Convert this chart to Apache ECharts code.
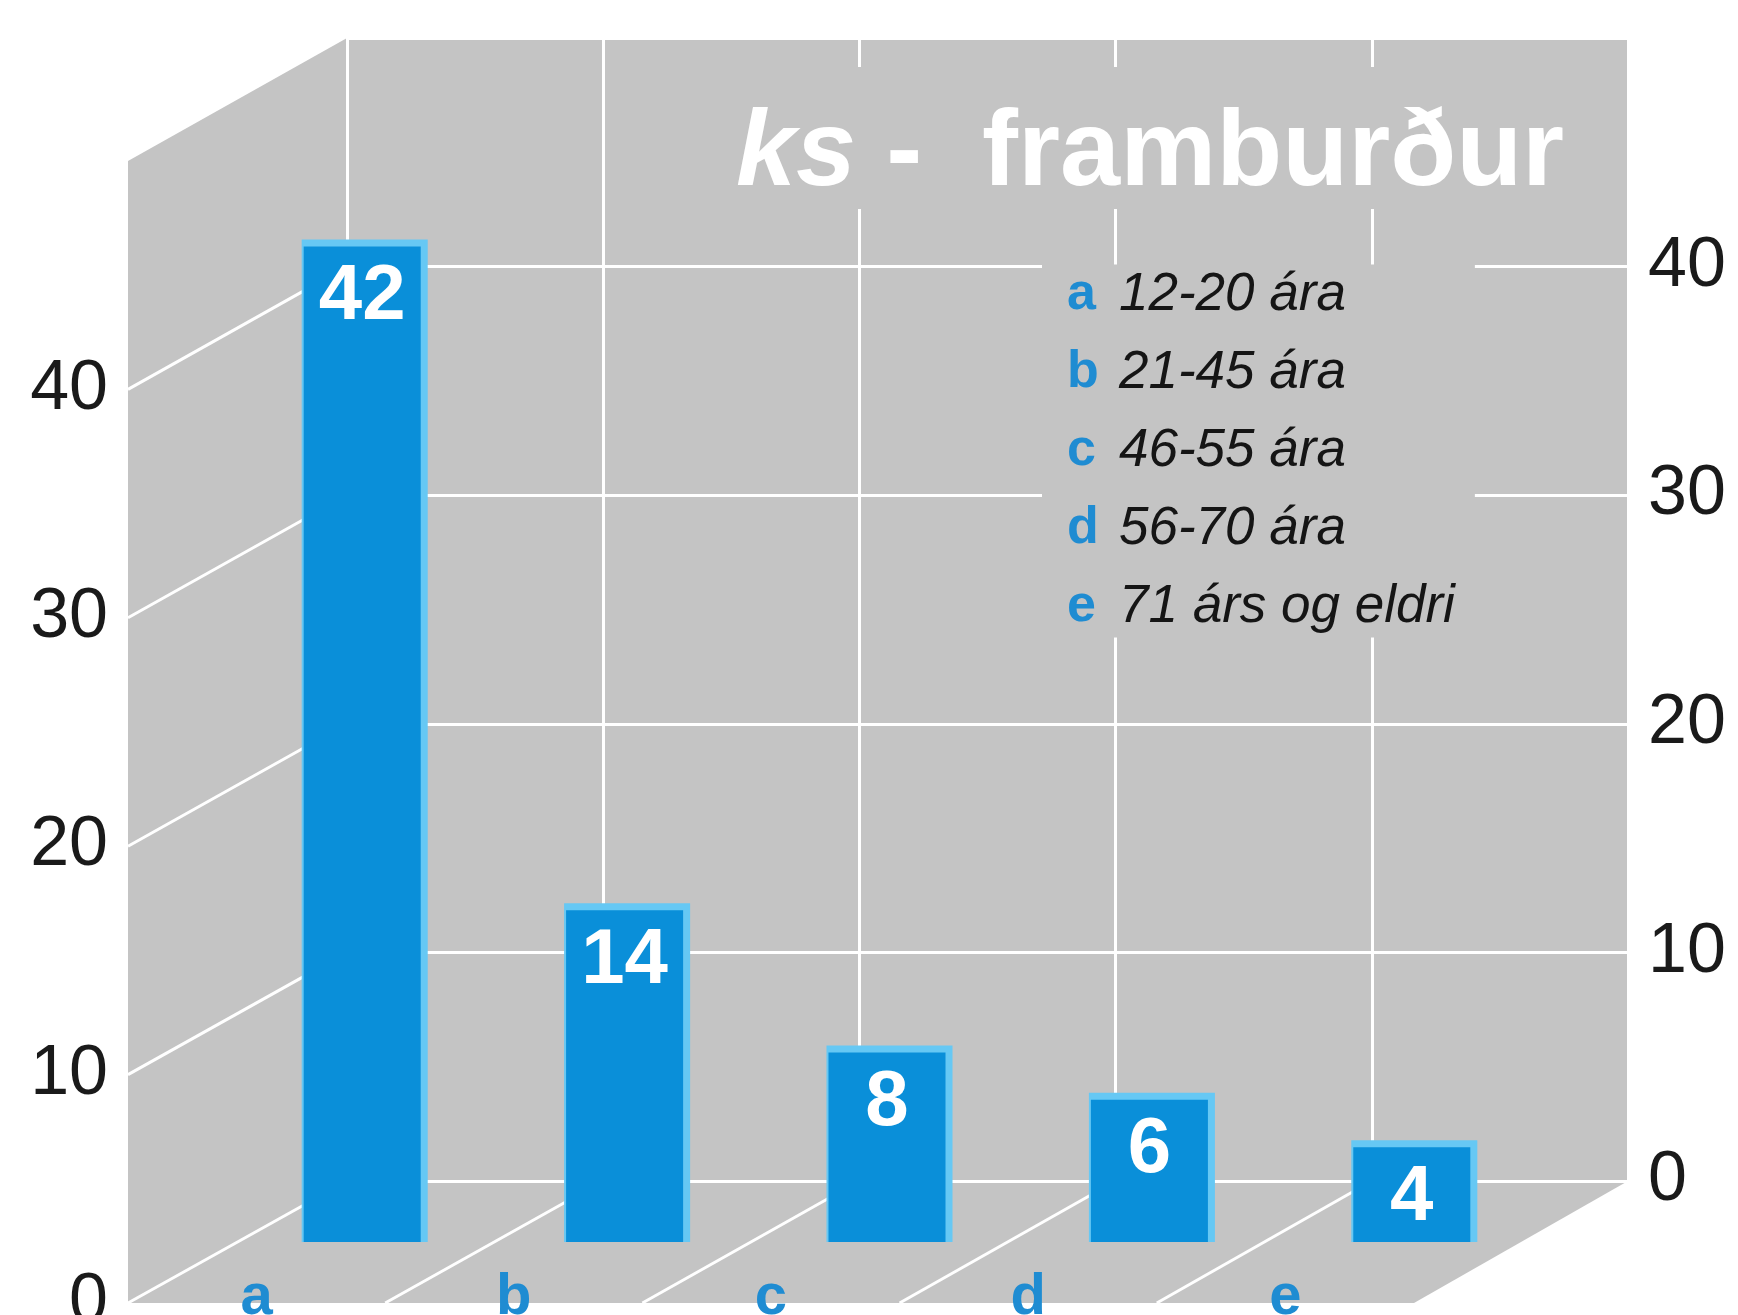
<!DOCTYPE html>
<html>
<head>
    <meta charset="utf-8">
    <title>ks - framburður</title>
    <script src="https://cdn.jsdelivr.net/npm/echarts@6/dist/echarts.min.js"></script>
    <style>
        html, body {
            margin: 0;
            padding: 0;
            background: #ffffff;
        }
        #chart {
            width: 1738px;
            height: 1315px;
        }
    </style>
</head>
<body>
    <div id="chart"></div>

    <script>
        // data
        const categories = ['a', 'b', 'c', 'd', 'e'];
        const counts = [42, 14, 8, 6, 4];
        const ageGroups = ['12-20 ára', '21-45 ára', '46-55 ára', '56-70 ára', '71 árs og eldri'];
        const wallTicks = [0, 10, 20, 30, 40];

        const FONT = '"Liberation Sans", Arial, Helvetica, sans-serif';
        const WALL = '#c4c4c4';
        const GRID_LINE = '#ffffff';
        const BAR_DARK = '#0a8fd9';
        const BAR_LIGHT = '#66c8f4';
        const LETTER_BLUE = '#1f8cd2';

        const legendText = categories
            .map((c, i) => `{l|${c}}{t|${ageGroups[i]}}`)
            .join('\n');

        const chart = echarts.init(document.getElementById('chart'));

        const option = {
            backgroundColor: '#ffffff',
            animation: false,
            title: [
                {
                    text: '{i|ks} -  framburður',
                    left: 722,
                    top: 76,
                    padding: [34, 14, 0, 14],
                    backgroundColor: WALL,
                    textStyle: {
                        color: '#ffffff',
                        fontFamily: FONT,
                        fontSize: 108,
                        fontWeight: 'bold',
                        lineHeight: 90,
                        rich: {
                            i: {
                                color: '#ffffff',
                                fontFamily: FONT,
                                fontSize: 108,
                                fontWeight: 'bold',
                                fontStyle: 'italic',
                                lineHeight: 90
                            }
                        }
                    },
                    z: 20
                },
                {
                    text: legendText,
                    left: 1042,
                    top: 252,
                    padding: [4, 20, 4, 25],
                    backgroundColor: WALL,
                    textStyle: {
                        fontWeight: 'normal',
                        rich: {
                            l: {
                                color: LETTER_BLUE,
                                fontFamily: FONT,
                                fontSize: 52,
                                fontWeight: 'bold',
                                width: 52,
                                lineHeight: 78
                            },
                            t: {
                                color: '#151515',
                                fontFamily: FONT,
                                fontSize: 53,
                                fontWeight: 'normal',
                                fontStyle: 'italic',
                                lineHeight: 78
                            }
                        }
                    },
                    z: 20
                }
            ],
            grid: [
                // back wall
                { left: 347, top: 38, width: 1281, height: 1143, show: true, backgroundColor: WALL, borderWidth: 0, outerBoundsMode: 'none', containLabel: false },
                // front plane (left axis + category letters)
                { left: 128, top: 161, width: 1286, height: 1142, outerBoundsMode: 'none', containLabel: false },
                // bars, standing half way into the box
                { left: 231, top: 57, width: 1312, height: 1185, outerBoundsMode: 'none', containLabel: false }
            ],
            xAxis: [
                {
                    gridIndex: 0,
                    type: 'category',
                    data: categories,
                    axisLine: { show: false },
                    axisTick: { show: false },
                    axisLabel: { show: false },
                    splitLine: { show: true, lineStyle: { color: GRID_LINE, width: 3 } }
                },
                {
                    gridIndex: 1,
                    type: 'category',
                    data: categories,
                    axisLine: { show: false },
                    axisTick: { show: false },
                    splitLine: { show: false },
                    axisLabel: {
                        margin: -34,
                        color: LETTER_BLUE,
                        fontFamily: FONT,
                        fontSize: 58,
                        fontWeight: 'bold',
                        verticalAlign: 'top'
                    }
                },
                {
                    gridIndex: 2,
                    type: 'category',
                    data: categories,
                    show: false
                }
            ],
            yAxis: [
                {
                    gridIndex: 0,
                    type: 'value',
                    position: 'right',
                    min: 0,
                    max: 50,
                    interval: 10,
                    axisLine: { show: false },
                    axisTick: { show: false },
                    axisLabel: {
                        margin: 20,
                        color: '#1a1a1a',
                        fontFamily: FONT,
                        fontSize: 70,
                        formatter: v => (wallTicks.includes(v) ? String(v) : '')
                    },
                    splitLine: { show: true, lineStyle: { color: GRID_LINE, width: 3 } }
                },
                {
                    gridIndex: 1,
                    type: 'value',
                    position: 'left',
                    min: 0,
                    max: 50,
                    interval: 10,
                    axisLine: { show: false },
                    axisTick: { show: false },
                    splitLine: { show: false },
                    axisLabel: {
                        margin: 20,
                        color: '#1a1a1a',
                        fontFamily: FONT,
                        fontSize: 70,
                        formatter: v => (wallTicks.includes(v) ? String(v) : '')
                    }
                },
                {
                    gridIndex: 2,
                    type: 'value',
                    min: 0,
                    max: 50,
                    show: false
                }
            ],
            series: [
                {
                    type: 'custom',
                    xAxisIndex: 2,
                    yAxisIndex: 2,
                    z: 10,
                    data: counts.map((v, i) => [categories[i], v]),
                    encode: { x: 0, y: 1 },
                    renderItem: function (params, api) {
                        const base = api.coord([api.value(0), 0]);
                        const top = api.coord([api.value(0), api.value(1)]);
                        const w = api.size([1, 0])[0] * 0.446;
                        const x = base[0] - w / 2;
                        const h = base[1] - top[1];
                        return {
                            type: 'group',
                            children: [
                                {
                                    type: 'rect',
                                    shape: { x: x - 2, y: top[1] - 7, width: w + 9, height: h + 7 },
                                    style: { fill: BAR_LIGHT }
                                },
                                {
                                    type: 'rect',
                                    shape: { x: x, y: top[1], width: w, height: h },
                                    style: { fill: BAR_DARK }
                                },
                                {
                                    type: 'text',
                                    style: {
                                        text: String(api.value(1)),
                                        x: base[0],
                                        y: top[1] + 12,
                                        align: 'center',
                                        verticalAlign: 'top',
                                        fill: '#ffffff',
                                        font: 'bold 78px ' + FONT
                                    }
                                }
                            ]
                        };
                    }
                }
            ]
        };

        chart.setOption(option);

        // side wall and floor of the box, placed from the back and front grids
        function planeOf(gridIndex) {
            const p0 = chart.convertToPixel({ gridIndex: gridIndex }, [categories[0], 0]);
            const p1 = chart.convertToPixel({ gridIndex: gridIndex }, [categories[1], 0]);
            const step = p1[0] - p0[0];
            return {
                left: p0[0] - step / 2,
                step: step,
                y: v => chart.convertToPixel({ gridIndex: gridIndex }, [categories[0], v])[1]
            };
        }

        const back = planeOf(0);
        const front = planeOf(1);
        const n = categories.length;
        const graphics = [];

        graphics.push({
            type: 'polygon',
            z: -10,
            shape: {
                points: [
                    [front.left, front.y(50)],
                    [back.left, back.y(50)],
                    [back.left, back.y(0)],
                    [front.left, front.y(0)]
                ]
            },
            style: { fill: WALL }
        });
        graphics.push({
            type: 'polygon',
            z: -10,
            shape: {
                points: [
                    [front.left, front.y(0)],
                    [front.left + n * front.step, front.y(0)],
                    [back.left + n * back.step, back.y(0)],
                    [back.left, back.y(0)]
                ]
            },
            style: { fill: WALL }
        });

        wallTicks.forEach(v => {
            graphics.push({
                type: 'line',
                z: 1,
                shape: { x1: front.left, y1: front.y(v), x2: back.left, y2: back.y(v) },
                style: { stroke: GRID_LINE, lineWidth: 3 }
            });
        });

        for (let k = 1; k < n; k++) {
            graphics.push({
                type: 'line',
                z: 1,
                shape: {
                    x1: front.left + k * front.step, y1: front.y(0),
                    x2: back.left + k * back.step, y2: back.y(0)
                },
                style: { stroke: GRID_LINE, lineWidth: 3 }
            });
        }

        chart.setOption({ graphic: graphics });
    </script>
</body>
</html>
